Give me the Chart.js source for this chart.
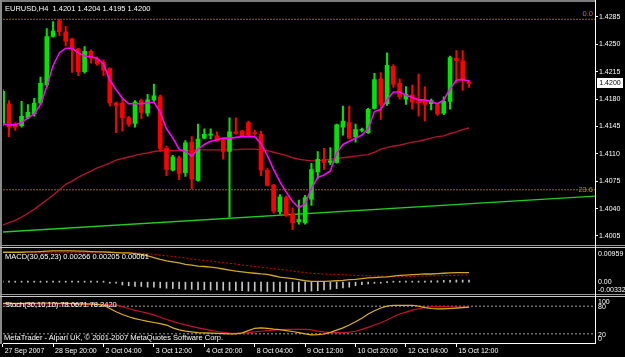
<!DOCTYPE html>
<html>
<head>
<meta charset="utf-8">
<script src="https://cdn.jsdelivr.net/npm/chart.js@4.4.0/dist/chart.umd.min.js"></script>
<style>
  body { margin: 0; background: #000; }
  #wrap { position: relative; width: 625px; height: 357px; overflow: hidden; background: #000;
          font-family: "Liberation Sans", Arial, sans-serif; }
  canvas { position: absolute; left: 0; }
  .t { position: absolute; color: #fff; font-size: 7.5px; line-height: 9px; white-space: nowrap; }
  .ax { position: absolute; left: 598px; color: #fff; font-size: 7px; line-height: 9px; white-space: nowrap; }
  .ln { position: absolute; }
</style>
</head>
<body>
<div id="wrap">
  <canvas id="mainChart" width="625" height="246" style="top:0"></canvas>
  <canvas id="macdChart" width="625" height="46" style="top:248px"></canvas>
  <canvas id="stochChart" width="625" height="60" style="top:297px"></canvas>

  <!-- window frame -->
  <div class="ln" style="left:0;top:0;width:595px;height:2px;background:#7c7c7c"></div>
  <div class="ln" style="left:0;top:0;width:2px;height:344px;background:#8a8a8a"></div>
  <div class="ln" style="left:0;top:245px;width:625px;height:1px;background:#9a9a9a"></div>
  <div class="ln" style="left:0;top:247px;width:625px;height:1px;background:#c8c8c8"></div>
  <div class="ln" style="left:0;top:294px;width:625px;height:1px;background:#9a9a9a"></div>
  <div class="ln" style="left:0;top:296px;width:625px;height:1px;background:#c8c8c8"></div>
  <div class="ln" style="left:595px;top:0;width:1px;height:344px;background:#fff"></div>

  <div class="t" style="left:5px;top:3.5px">EURUSD,H4&nbsp; 1.4201 1.4204 1.4195 1.4200</div>
  <div class="t" style="right:32px;top:8.5px;color:#b8860b">0.0</div>
  <div class="t" style="right:32px;top:184.5px;color:#b8860b">23.6</div>
  <div class="t" style="left:597px;top:78px;width:26px;height:10px;line-height:10px;background:#fff;color:#000;font-size:7px;text-align:center">1.4200</div>

  <div class="t" style="left:5px;top:251.5px">MACD(30,65,23) 0.00266 0.00205 0.00061</div>
  <div class="ax" style="top:248.8px">0.00959</div>
  <div class="ax" style="top:277.2px">0.00</div>
  <div class="ax" style="top:285px">-0.00332</div>

  <div class="t" style="left:5px;top:299.5px">Stoch(30,10,10) 78.0671 78.2420</div>
  <div class="ax" style="top:297.2px">100</div>
  <div class="ax" style="top:302.2px">80</div>
  <div class="ax" style="top:329.5px">20</div>
  <div class="ax" style="top:333.8px">0</div>
  <div class="t" style="left:4px;top:332.8px">MetaTrader - Alpari UK, © 2001-2007 MetaQuotes Software Corp.</div>
</div>

<script>
// EURUSD H4, one entry per bar (bar 0 = 27 Sep 2007 12:00)
const priceTicks = [1.4005, 1.4040, 1.4075, 1.4110, 1.4145, 1.4180, 1.4215, 1.4250, 1.4285];
const timeTickBars = [0, 8, 16, 24, 32, 40, 48, 56, 64, 72];
const timeLabels = ['27 Sep 2007', '28 Sep 20:00', '2 Oct 04:00', '3 Oct 12:00', '4 Oct 20:00',
                    '8 Oct 04:00', '9 Oct 12:00', '10 Oct 20:00', '12 Oct 04:00', '15 Oct 12:00'];

const opens = [1.4149,1.4174,1.4148,1.4146,1.4156,1.4161,1.4175,1.4198,1.4260,1.4280,
  1.4266,1.4257,1.4244,1.4215,1.4241,1.4231,1.4227,1.4219,1.4175,1.4175,
  1.4156,1.4149,1.4178,1.4162,1.4179,1.4183,1.4117,1.4089,1.4105,1.4086,
  1.4125,1.4076,1.4130,1.4134,1.4133,1.4128,1.4113,1.4138,1.4139,1.4150,
  1.4137,1.4135,1.4089,1.4070,1.4036,1.4054,1.4033,1.4023,1.4022,1.4052,
  1.4087,1.4103,1.4099,1.4099,1.4144,1.4150,1.4132,1.4140,1.4137,1.4168,
  1.4206,1.4174,1.4222,1.4200,1.4180,1.4185,1.4178,1.4177,1.4174,1.4173,
  1.4162,1.4177,1.4232,1.4229,1.4201];
const highs = [1.4192,1.4178,1.4150,1.4177,1.4173,1.4181,1.4208,1.4270,1.4279,1.4282,
  1.4273,1.4258,1.4245,1.4247,1.4243,1.4234,1.4230,1.4220,1.4176,1.4180,
  1.4158,1.4178,1.4180,1.4186,1.4199,1.4185,1.4120,1.4108,1.4107,1.4127,
  1.4132,1.4148,1.4142,1.4142,1.4138,1.4129,1.4156,1.4156,1.4140,1.4152,
  1.4140,1.4139,1.4091,1.4071,1.4058,1.4056,1.4041,1.4051,1.4057,1.4098,
  1.4113,1.4117,1.4118,1.4148,1.4171,1.4171,1.4148,1.4143,1.4168,1.4213,
  1.4214,1.4239,1.4224,1.4206,1.4196,1.4198,1.4212,1.4196,1.4180,1.4174,
  1.4183,1.4235,1.4242,1.4242,1.4204];
const lows = [1.4146,1.4132,1.4140,1.4144,1.4155,1.4158,1.4173,1.4196,1.4259,1.4261,
  1.4248,1.4214,1.4210,1.4213,1.4226,1.4223,1.4210,1.4171,1.4137,1.4139,
  1.4145,1.4144,1.4155,1.4158,1.4177,1.4113,1.4082,1.4088,1.4077,1.4081,
  1.4065,1.4075,1.4129,1.4129,1.4126,1.4103,1.4029,1.4135,1.4132,1.4133,
  1.4134,1.4082,1.4069,1.4034,1.4033,1.4030,1.4013,1.4020,1.4020,1.4044,
  1.4078,1.4090,1.4096,1.4098,1.4134,1.4130,1.4125,1.4138,1.4136,1.4167,
  1.4154,1.4172,1.4195,1.4180,1.4173,1.4167,1.4158,1.4152,1.4166,1.4159,
  1.4160,1.4167,1.4201,1.4191,1.4195];
const closes = [1.4190,1.4144,1.4144,1.4158,1.4163,1.4175,1.4200,1.4260,1.4267,1.4266,
  1.4254,1.4244,1.4215,1.4241,1.4232,1.4225,1.4217,1.4175,1.4172,1.4156,
  1.4148,1.4176,1.4163,1.4179,1.4184,1.4117,1.4090,1.4106,1.4085,1.4124,
  1.4078,1.4129,1.4135,1.4135,1.4127,1.4113,1.4138,1.4136,1.4133,1.4134,
  1.4136,1.4089,1.4070,1.4037,1.4055,1.4032,1.4022,1.4026,1.4054,1.4090,
  1.4103,1.4099,1.4101,1.4147,1.4152,1.4130,1.4141,1.4141,1.4167,1.4205,
  1.4173,1.4223,1.4199,1.4183,1.4186,1.4176,1.4175,1.4173,1.4178,1.4161,
  1.4177,1.4233,1.4229,1.4204,1.4200];

const maFast = [1.4148,1.4147,1.4147,1.4150,1.4156,1.4161,1.4173,1.4196,1.4223,1.4239,
  1.4245,1.4245,1.4239,1.4235,1.4234,1.4232,1.4225,1.4204,1.4192,1.4181,
  1.4174,1.4174,1.4174,1.4175,1.4176,1.4163,1.4142,1.4130,1.4116,1.4113,
  1.4107,1.4116,1.4122,1.4126,1.4128,1.4130,1.4130,1.4131,1.4132,1.4132,
  1.4132,1.4123,1.4108,1.4090,1.4074,1.4061,1.4049,1.4041,1.4046,1.4066,
  1.4080,1.4083,1.4088,1.4111,1.4122,1.4126,1.4130,1.4134,1.4142,1.4164,
  1.4167,1.4179,1.4189,1.4189,1.4185,1.4182,1.4179,1.4179,1.4177,1.4174,
  1.4179,1.4193,1.4204,1.4205,1.4203];
const maSlow = [1.4019,1.4022,1.4025,1.4029,1.4034,1.4039,1.4045,1.4051,1.4057,1.4064,
  1.4071,1.4075,1.4080,1.4084,1.4088,1.4092,1.4095,1.4098,1.4102,1.4104,
  1.4106,1.4108,1.4110,1.4111,1.4113,1.4114,1.4114,1.4114,1.4114,1.4114,
  1.4114,1.4115,1.4115,1.4115,1.4115,1.4115,1.4115,1.4115,1.4116,1.4116,
  1.4116,1.4115,1.4114,1.4112,1.4110,1.4108,1.4105,1.4103,1.4102,1.4101,
  1.4101,1.4102,1.4103,1.4104,1.4105,1.4106,1.4107,1.4108,1.4109,1.4112,
  1.4116,1.4118,1.4120,1.4121,1.4123,1.4125,1.4126,1.4128,1.4130,1.4132,
  1.4133,1.4136,1.4138,1.4141,1.4143];

const trendBars = [0, 94];
const trendPrices = [1.4010, 1.4056];
const fibPrices = [1.4282, 1.4064];

const macdMain = [0.0084,0.0084,0.0084,0.0084,0.0085,0.0085,0.0086,0.0087,0.0088,0.0088,
  0.0088,0.0088,0.0087,0.0087,0.0086,0.0085,0.0085,0.0084,0.0083,0.0082,
  0.0082,0.0080,0.0078,0.0074,0.0069,0.0064,0.0060,0.0057,0.0054,0.0050,
  0.0048,0.0045,0.0044,0.0042,0.0040,0.0037,0.0034,0.0031,0.0029,0.0027,
  0.0025,0.0023,0.0022,0.0018,0.0014,0.0012,0.0010,0.0007,0.0004,0.0002,
  0.0002,0.0002,0.0003,0.0004,0.0005,0.0007,0.0008,0.0010,0.0012,0.0013,
  0.0014,0.0015,0.0017,0.0019,0.0020,0.0021,0.0022,0.0023,0.0023,0.0024,
  0.0025,0.0026,0.0027,0.0027,0.00266];
const macdSignal = [0.0083,0.0083,0.0083,0.0083,0.0083,0.0083,0.0083,0.0083,0.0083,0.0083,
  0.0083,0.0083,0.0083,0.0083,0.0083,0.0083,0.0083,0.0083,0.0083,0.0082,
  0.0082,0.0082,0.0081,0.0080,0.0078,0.0076,0.0074,0.0072,0.0070,0.0068,
  0.0065,0.0063,0.0061,0.0059,0.0057,0.0055,0.0053,0.0051,0.0048,0.0046,
  0.0044,0.0042,0.0040,0.0038,0.0036,0.0034,0.0031,0.0029,0.0027,0.0025,
  0.0024,0.0023,0.0022,0.0022,0.0021,0.0020,0.0019,0.0018,0.0018,0.0017,
  0.0017,0.0016,0.0016,0.0016,0.0016,0.0016,0.0017,0.0017,0.0018,0.0018,
  0.0018,0.0019,0.0019,0.0020,0.00205];
const macdHist = [0.0002,0.0001,0.0002,0.0001,0.0002,0.0002,0.0001,0.0002,0.0003,0.0003,
  0.0002,0.0002,0.0001,0.0001,0.0001,0.0001,0.0001,-0.0001,-0.0002,-0.0008,
  -0.0010,-0.0012,-0.0012,-0.0014,-0.0014,-0.0016,-0.0017,-0.0018,-0.0018,-0.0020,
  -0.0020,-0.0021,-0.0021,-0.0022,-0.0022,-0.0023,-0.0023,-0.0024,-0.0024,-0.0025,
  -0.0025,-0.0025,-0.0026,-0.0026,-0.0027,-0.0027,-0.0027,-0.0027,-0.0026,-0.0025,
  -0.0024,-0.0022,-0.0020,-0.0018,-0.0016,-0.0014,-0.0010,-0.0007,-0.0005,-0.0003,
  -0.0001,0.0000,0.0001,0.0001,0.0002,0.0002,0.0003,0.0003,0.0004,0.0004,
  0.0005,0.0005,0.0006,0.0006,0.00061];

const stochMain = [86,86,86,86,86,86,87,87,87,86,86,86,85,85,85,84,82,75,68,62,
  57,53,50,47,44.5,42,39,33,28.5,26,24,22.5,22,21.5,21,20.5,20,20,22,27,
  32,33,32,30,29,27,25,22.5,20,17.5,18,19.5,23,28,33,39,46,54,63,70,
  76,80,82,82,82,82,80,77,75,74,74,75,76,77,78.0671];
const stochSignal = [85,85,85,85,85,85,85,85,85,85,85,85,85,84,84,84,84,83,82.5,79,
  75,71,68,65,61,56,51,47,43,39.5,36,33,30,27.5,25,23,21.5,21,21.5,22.5,
  24,25.5,27,28,29,29.8,29.8,29.8,29.5,28.5,26,24,22.5,22.5,22.5,23.5,25.5,29.5,34,39,
  44,50,57,63,67,71.5,74,77.5,78.5,79,79,78.5,78.3,78.2,78.242];
const stochLevels = [80, 20];

const X_MIN = 0.05, X_MAX = 94;
const UP = '#00e600', DOWN = '#ff0000';
const FONT = 'Liberation Sans';

function pts(arr) { return arr.map((v, i) => ({ x: i, y: v })); }
function hline(v) { return [{ x: X_MIN, y: v }, { x: X_MAX, y: v }]; }
function lineSet(data, color, width, extra) {
  return Object.assign({ type: 'line', data, borderColor: color, borderWidth: width,
    pointRadius: 0, tension: 0, fill: false }, extra || {});
}
function baseOptions(padding, scales) {
  return {
    responsive: false, animation: false, devicePixelRatio: 1,
    layout: { padding },
    plugins: { legend: { display: false }, tooltip: { enabled: false } },
    scales
  };
}
const hiddenX = { type: 'linear', min: X_MIN, max: X_MAX, offset: false, display: false };

// main price window
const candleColors = closes.map((c, i) => c >= opens[i] ? UP : DOWN);
new Chart(document.getElementById('mainChart'), {
  type: 'line',
  data: {
    datasets: [
      lineSet(trendBars.map((b, i) => ({ x: b, y: trendPrices[i] })), '#22cc22', 1.3, { order: 6 }),
      ...fibPrices.map(p => lineSet(hline(p), '#8f6a22', 1, { borderDash: [2, 1], order: 6 })),
      lineSet(pts(maSlow), '#b0142f', 1.4, { order: 5 }),
      { type: 'bar', data: lows.map((l, i) => ({ x: i, y: [l, highs[i]] })),
        backgroundColor: candleColors, barThickness: 1.4, grouped: false, order: 4 },
      { type: 'bar', data: opens.map((o, i) => ({ x: i, y: [o, closes[i]] })),
        backgroundColor: candleColors, barThickness: 4, minBarLength: 1, grouped: false, order: 3 },
      lineSet(pts(maFast), '#ff00ff', 1.6, { order: 1 })
    ]
  },
  options: baseOptions({ left: 3, top: 3, right: 0, bottom: 1 }, {
    x: hiddenX,
    y: {
      position: 'right', min: 1.39988, max: 1.43,
      afterBuildTicks: s => { s.ticks = priceTicks.map(v => ({ value: v })); },
      afterFit: s => { s.width = 30; },
      ticks: { color: '#fff', font: { family: FONT, size: 7 }, padding: 1,
               callback: v => Number(v).toFixed(4) },
      grid: { drawOnChartArea: false, color: '#fff', tickLength: 3 },
      border: { color: '#fff' }
    }
  })
});

// MACD window
new Chart(document.getElementById('macdChart'), {
  type: 'line',
  data: {
    datasets: [
      { type: 'bar', data: pts(macdHist), backgroundColor: '#c4c4c4', barThickness: 1,
        minBarLength: 1, grouped: false, order: 3 },
      lineSet(pts(macdSignal), '#e00000', 1, { borderDash: [2, 2], order: 2 }),
      lineSet(pts(macdMain), '#d0a826', 1.3, { order: 1 })
    ]
  },
  options: baseOptions({ left: 3, top: 0, right: 30, bottom: 0 }, {
    x: hiddenX,
    y: { min: -0.00332, max: 0.00959, display: false }
  })
});

// Stochastic window with the time axis
new Chart(document.getElementById('stochChart'), {
  type: 'line',
  data: {
    datasets: [
      ...stochLevels.map(v => lineSet(hline(v), '#a0a0a0', 1, { borderDash: [2, 2], order: 3 })),
      lineSet(pts(stochSignal), '#c8102e', 1.2, { order: 2 }),
      lineSet(pts(stochMain), '#e0b020', 1.2, { order: 1 })
    ]
  },
  options: baseOptions({ left: 3, top: 0, right: 30, bottom: 0 }, {
    x: {
      type: 'linear', min: X_MIN, max: X_MAX, offset: false, position: 'bottom',
      afterBuildTicks: s => { s.ticks = timeTickBars.map(v => ({ value: v })); },
      afterFit: s => { s.height = 14; },
      ticks: { color: '#fff', font: { family: FONT, size: 7 }, align: 'start', padding: 0,
               maxRotation: 0, autoSkip: false, callback: (v, i) => ' ' + timeLabels[i] },
      grid: { drawOnChartArea: false, color: '#fff', tickLength: 4 },
      border: { color: '#fff' }
    },
    y: { min: 0, max: 100, display: false }
  })
});
</script>
</body>
</html>
